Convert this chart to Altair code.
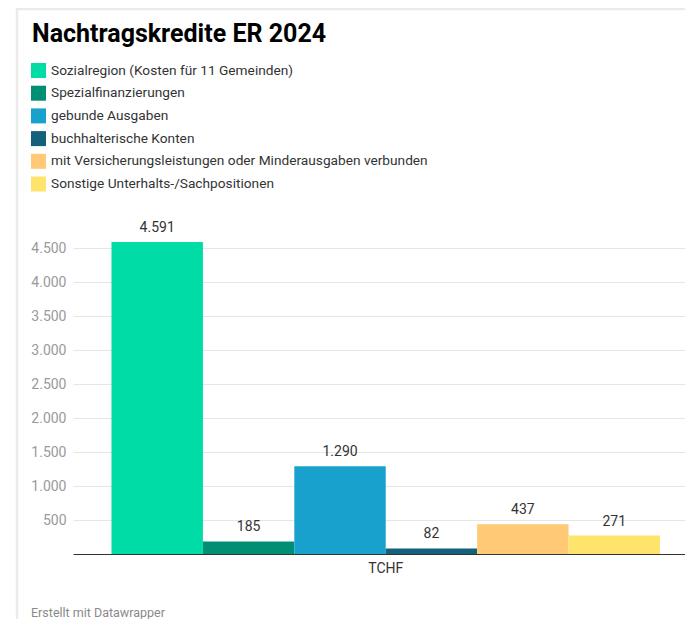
import altair as alt
import pandas as pd

TITLE = "Nachtragskredite ER 2024"
FOOTER = "Erstellt mit Datawrapper"
GROUP = "TCHF"
categories = [
    "Sozialregion (Kosten für 11 Gemeinden)",
    "Spezialfinanzierungen",
    "gebunde Ausgaben",
    "buchhalterische Konten",
    "mit Versicherungsleistungen oder Minderausgaben verbunden",
    "Sonstige Unterhalts-/Sachpositionen",
]
values = [4591, 185, 1290, 82, 437, 271]
colors = ["#00dca6", "#008f74", "#18a1cd", "#15607a", "#ffc976", "#ffe46b"]
y_ticks = [500, 1000, 1500, 2000, 2500, 3000, 3500, 4000, 4500]

df = pd.DataFrame({"group": [GROUP] * len(categories), "cat": categories, "value": values})

W, H = 612, 312
FONT = "Roboto"

base = alt.Chart(df).transform_calculate(
    label="replace(format(datum.value, ','), ',', '.')"
)

x_enc = alt.X(
    "group:N",
    scale=alt.Scale(paddingInner=0, paddingOuter=0.0579, align=0.606),
    axis=alt.Axis(
        title=None, labelAngle=0, ticks=False, domainColor="#333333", domainWidth=1,
        labelFontSize=14, labelColor="#333333", labelFont=FONT, labelPadding=7,
    ),
)
xo_enc = alt.XOffset("cat:N", sort=categories, scale=alt.Scale(paddingInner=0, paddingOuter=0))
y_enc = alt.Y(
    "value:Q",
    scale=alt.Scale(domain=[0, 4591], nice=False, zero=True),
    axis=alt.Axis(
        title=None, values=y_ticks, tickCount=20, domain=False, ticks=False,
        gridColor="#e6e6e6", gridWidth=1, labelOverlap=False,
        labelExpr="replace(format(datum.value, ','), ',', '.')",
        labelFontSize=14, labelColor="#9a9a9a", labelFont=FONT, labelPadding=7,
    ),
)

bars = base.mark_bar().encode(
    x=x_enc,
    xOffset=xo_enc,
    y=y_enc,
    color=alt.Color(
        "cat:N",
        sort=categories,
        scale=alt.Scale(domain=categories, range=colors),
        legend=alt.Legend(
            title=None, orient="none", legendX=-42, legendY=-179, direction="vertical",
            symbolType="square", symbolSize=225, symbolStrokeWidth=0, symbolOpacity=1,
            labelFontSize=13.7, labelColor="#333333", labelFont=FONT, rowPadding=7.7,
            labelOffset=5, labelLimit=0, padding=0,
        ),
    ),
)

labels = base.mark_text(baseline="bottom", dy=-7, fontSize=14, color="#333333", font=FONT).encode(
    x=x_enc,
    xOffset=xo_enc,
    y=y_enc,
    text="label:N",
)

one = alt.Data(values=[{}])
title = alt.Chart(one).mark_text(
    align="left", baseline="alphabetic", fontSize=25, fontWeight="bold", font=FONT, color="#000000"
).encode(x=alt.value(-41), y=alt.value(-200), text=alt.value(TITLE))

footer = alt.Chart(one).mark_text(
    align="left", baseline="middle", fontSize=12.5, font=FONT, color="#8a8a8a"
).encode(x=alt.value(-42), y=alt.value(371), text=alt.value(FOOTER))

frame_left = alt.Chart(one).mark_rule(color="#ebebeb", strokeWidth=2.5).encode(
    x=alt.value(-56), y=alt.value(-234), y2=alt.value(377)
)
frame_top = alt.Chart(one).mark_rule(color="#ebebeb", strokeWidth=2.5).encode(
    x=alt.value(-57), x2=alt.value(W), y=alt.value(-233)
)

chart = alt.layer(frame_left, frame_top, bars, labels, title, footer).properties(
    width=W, height=H, autosize="none",
    padding={"left": 65, "top": 234, "right": 0, "bottom": 65},
).configure(font=FONT, background="white").configure_view(stroke=None)

chart.save("out.html", embed_options={"renderer": "svg", "actions": False})
